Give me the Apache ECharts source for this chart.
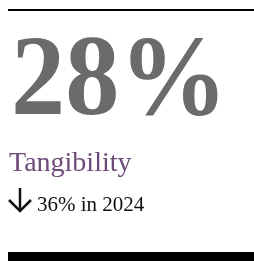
<!DOCTYPE html>
<html>
<head>
<meta charset="utf-8">
<script src="https://cdn.jsdelivr.net/npm/echarts@6/dist/echarts.min.js"></script>
<style>
  html, body { margin: 0; padding: 0; background: #fff; }
  #chart { width: 254px; height: 261px; }
</style>
</head>
<body>
<div id="chart"></div>
<script>
// KPI 卡片数据
const metricNames = ['Tangibility']
const metricValues = [28]
const changeValues = [-36]
const changeYears = [2024]

const chart = echarts.init(document.getElementById('chart'), null, { renderer: 'canvas' })

const serif = '"Liberation Serif", "DejaVu Serif", serif'
const change = changeValues[0]
// 箭头方向：下降向下，上升向上
const down = change < 0
const arrowPts = down
  ? { stem: [[20, 188], [20, 211]], head: [[9, 200], [20, 211], [31, 200]] }
  : { stem: [[20, 211], [20, 188]], head: [[9, 199], [20, 188], [31, 199]] }

chart.setOption({
  animation: false,
  graphic: [
    // 顶部细线
    { type: 'rect', shape: { x: 8, y: 9, width: 246, height: 2 }, style: { fill: '#000' } },
    // 大数字
    {
      type: 'text', x: 11, y: 142, scaleX: 0.95,
      style: {
        text: metricValues[0] + '%',
        font: 'bold 114px ' + serif,
        fill: '#6b6b6b',
        textVerticalAlign: 'bottom'
      }
    },
    // 指标名称
    {
      type: 'text', x: 9, y: 150,
      style: { text: metricNames[0], font: '28px ' + serif, fill: '#6e4a78' }
    },
    // 变化箭头
    { type: 'polyline', shape: { points: arrowPts.stem }, style: { stroke: '#111', lineWidth: 2.5, fill: null } },
    { type: 'polyline', shape: { points: arrowPts.head }, style: { stroke: '#111', lineWidth: 2.5, fill: null } },
    // 变化说明
    {
      type: 'text', x: 37, y: 195,
      style: { text: Math.abs(change) + '% in ' + changeYears[0], font: '21px ' + serif, fill: '#111' }
    },
    // 底部粗线
    { type: 'rect', shape: { x: 8, y: 252, width: 246, height: 9 }, style: { fill: '#000' } }
  ]
})
</script>
</body>
</html>
